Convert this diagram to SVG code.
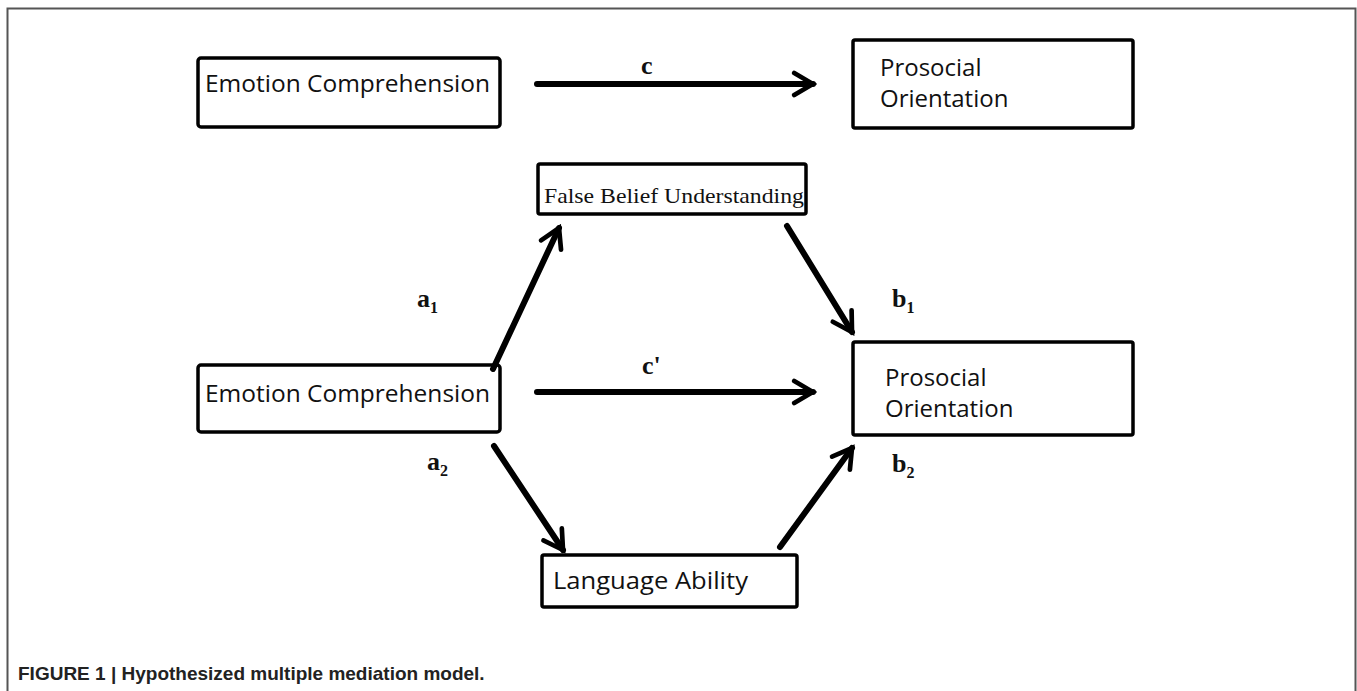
<svg xmlns="http://www.w3.org/2000/svg" width="1357" height="691" viewBox="0 0 1357 691">
<style>
.box{fill:#fff;stroke:#000;stroke-width:3.5}
.lbl{font-family:"Open Sans","Liberation Sans",sans-serif;font-size:24px;fill:#111}
.fbu{font-family:"Liberation Serif",serif;font-size:22px;fill:#111}
.coef{font-family:"Liberation Serif",serif;font-size:26px;font-weight:bold;fill:#111}
.sub{font-size:16px}
.conn{stroke:#000;stroke-width:6;fill:none;stroke-linecap:round}
.cap{font-family:"Liberation Sans",Arial,sans-serif;font-size:19px;font-weight:bold;fill:#222}
</style>
<defs>
<marker id="arr" viewBox="0 0 10 10" refX="8.4" refY="5" markerWidth="4.6" markerHeight="4.6" markerUnits="strokeWidth" orient="auto">
<path d="M1.6,1 L8.4,5 L1.6,9" fill="none" stroke="#000" stroke-width="1.7" stroke-linecap="round" stroke-linejoin="miter"/>
</marker>
</defs>
<rect x="0" y="0" width="1357" height="691" fill="#fff"/>
<path d="M7.5,691 V8.5 H1355.5 V691" fill="none" stroke="#555" stroke-width="2"/>
<g id="ec-top"><rect class="box" x="198" y="58" width="302" height="69" rx="3"/><text class="lbl" x="205" y="92" textLength="285" lengthAdjust="spacingAndGlyphs">Emotion Comprehension</text></g>
<g id="po-top"><rect class="box" x="853" y="40" width="280" height="88" rx="2"/><text class="lbl" x="880" y="76">Prosocial</text><text class="lbl" x="880" y="107">Orientation</text></g>
<g id="fbu"><rect class="box" x="538" y="164" width="268" height="50" rx="2"/><text class="fbu" x="544" y="203" textLength="260" lengthAdjust="spacingAndGlyphs">False Belief Understanding</text></g>
<g id="ec-mid"><rect class="box" x="198" y="365" width="302" height="67" rx="3"/><text class="lbl" x="205" y="402" textLength="285" lengthAdjust="spacingAndGlyphs">Emotion Comprehension</text></g>
<g id="po-mid"><rect class="box" x="853" y="342" width="280" height="93" rx="2"/><text class="lbl" x="885" y="386">Prosocial</text><text class="lbl" x="885" y="417">Orientation</text></g>
<g id="lang"><rect class="box" x="542" y="555" width="255" height="52" rx="2"/><text class="lbl" x="553" y="589" textLength="195" lengthAdjust="spacingAndGlyphs">Language Ability</text></g>
<g id="connectors">
<line class="conn" x1="537" y1="84" x2="813" y2="84" marker-end="url(#arr)"/>
<line class="conn" x1="493" y1="369" x2="559" y2="228" marker-end="url(#arr)"/>
<line class="conn" x1="787" y1="226" x2="852" y2="332" marker-end="url(#arr)"/>
<line class="conn" x1="537" y1="392" x2="813" y2="392" marker-end="url(#arr)"/>
<line class="conn" x1="494" y1="446" x2="563" y2="550" marker-end="url(#arr)"/>
<line class="conn" x1="780" y1="547" x2="852" y2="448" marker-end="url(#arr)"/>
</g>
<g id="labels">
<text class="coef" x="641" y="74">c</text>
<text class="coef" x="642" y="374">c'</text>
<text class="coef" x="417" y="307">a<tspan class="sub" dy="6">1</tspan></text>
<text class="coef" x="427" y="470">a<tspan class="sub" dy="6">2</tspan></text>
<text class="coef" x="892" y="307">b<tspan class="sub" dy="6">1</tspan></text>
<text class="coef" x="892" y="472">b<tspan class="sub" dy="6">2</tspan></text>
</g>
<text class="cap" x="18" y="680">FIGURE 1 | Hypothesized multiple mediation model.</text>
</svg>
